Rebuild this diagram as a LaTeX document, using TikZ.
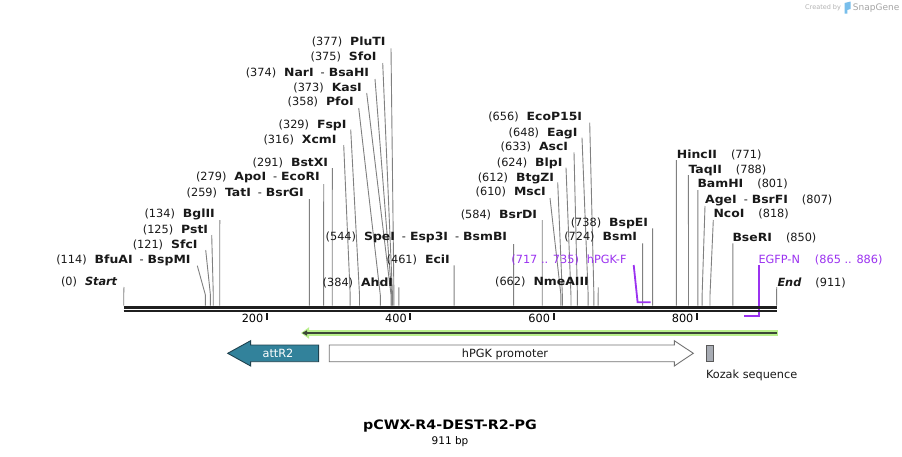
\documentclass[tikz,border=0pt]{standalone}
\usepackage{fontspec}
\setmainfont{DejaVu Sans}[BoldFeatures={FakeStretch=1.1}]
\usetikzlibrary{calc,arrows.meta}
\definecolor{primerc}{RGB}{155,50,240}
\definecolor{attc}{RGB}{50,130,155}
\definecolor{attd}{RGB}{30,65,78}
\definecolor{halo}{RGB}{185,240,140}
\definecolor{featline}{RGB}{60,72,55}
\definecolor{kozc}{RGB}{168,172,180}
\definecolor{sgblue}{RGB}{120,190,235}
\newcommand\mygap{\hspace{8pt}}
\newcommand\rgap{\hspace{14pt}}
\newcommand\mydash{\hspace{7pt}-\hspace{4pt}}
\newcommand\bpx[1]{123.7+#1*0.71675}
\begin{document}
\begin{tikzpicture}[x=1pt,y=-1pt,
  lbl/.style={inner sep=0pt, font=\fontsize{11.3}{13}\selectfont, text=black!90},
  siteline/.style={draw=black!50, line width=0.9pt},
  primerline/.style={draw=primerc, line width=1.8pt},
  ticklbl/.style={inner sep=0pt, font=\fontsize{11.3}{13}\selectfont, anchor=base east},
  tickmark/.style={line width=2pt, draw=black!90},
  backbone/.style={draw=black!88},
  featbox/.style={line width=0.9pt}]
\useasboundingbox[fill=white] (0,0) rectangle (902,456);

% ---- left-side labels: name / right x / center y / text / line start x / y / bp
\foreach \nm/\rx/\ly/\txt/\sx/\sy/\bp in {
  start/117.7/281.7/{(0)\mygap\textbf{\textit{Start}}}/124.0/287/0,
  bfuai/190.7/259/{(114)\mygap\textbf{BfuAI}\mydash\textbf{BspMI}}/197.3/265.7/114,
  sfci/197.7/244/{(121)\mygap\textbf{SfcI}}/205.7/250/121,
  psti/208.3/229/{(125)\mygap\textbf{PstI}}/211.7/235/125,
  bglii/215/213.3/{(134)\mygap\textbf{BglII}}/219.8/220/134,
  tati/304/192.3/{(259)\mygap\textbf{TatI}\mydash\textbf{BsrGI}}/309.3/199/259,
  apoi/320/176.7/{(279)\mygap\textbf{ApoI}\mydash\textbf{EcoRI}}/323.7/184/279,
  bstxi/328.3/162.3/{(291)\mygap\textbf{BstXI}}/332.3/168/291,
  xcmi/336.7/139/{(316)\mygap\textbf{XcmI}}/343.7/145/316,
  fspi/346.7/124.3/{(329)\mygap\textbf{FspI}}/350.7/129.5/329,
  pfoi/354/101.7/{(358)\mygap\textbf{PfoI}}/358.7/108/358,
  kasi/362/87.3/{(373)\mygap\textbf{KasI}}/366.7/93/373,
  nari/369.3/72.3/{(374)\mygap\textbf{NarI}\mydash\textbf{BsaHI}}/375/79/374,
  sfoi/376.7/56.7/{(375)\mygap\textbf{SfoI}}/382.7/63/375,
  pluti/385.7/41.7/{(377)\mygap\textbf{PluTI}}/391/48.3/377,
  ahdi/393.3/282/{(384)\mygap\textbf{AhdI}}/398.9/287.3/384,
  ecii/450/259/{(461)\mygap\textbf{EciI}}/454.1/265.3/461,
  spei/507.3/236.7/{(544)\mygap\textbf{SpeI}\mydash\textbf{Esp3I}\mydash\textbf{BsmBI}}/513.6/244/544,
  bsrdi/537.3/214.3/{(584)\mygap\textbf{BsrDI}}/542.2/220/584,
  msci/546/191.7/{(610)\mygap\textbf{MscI}}/550/198/610,
  btgzi/554.3/177/{(612)\mygap\textbf{BtgZI}}/557.7/182.3/612,
  blpi/562.7/162.3/{(624)\mygap\textbf{BlpI}}/566/167.7/624,
  asci/568.3/146.7/{(633)\mygap\textbf{AscI}}/574/152.3/633,
  eagi/577.7/132.3/{(648)\mygap\textbf{EagI}}/582/137.7/648,
  ecop/582.3/116.7/{(656)\mygap\textbf{EcoP15I}}/589.7/122.7/656,
  nmea/589/281.7/{(662)\mygap\textbf{NmeAIII}}/598.2/287.3/662,
  bsmi/637.3/236.7/{(724)\mygap\textbf{BsmI}}/642.6/243.3/724,
  bspei/648.3/222.3/{(738)\mygap\textbf{BspEI}}/652.6/228.3/738}
{
  \node[lbl, anchor=base east] (L\nm) at (\rx,\ly+4) {\txt};
  \coordinate (A\nm) at (\sx,\sy);
  \coordinate (B\nm) at ({\bpx{\bp}},295);
  \coordinate (S\nm) at ({\bpx{\bp}},305.5);
  \draw[siteline] (A\nm) -- (B\nm) -- (S\nm);
}

% ---- right-side labels: name / left x / center y / text / line start x / y / bp
\foreach \nm/\lx/\ly/\txt/\sx/\sy/\bp in {
  hincii/676.7/154/{\textbf{HincII}\rgap(771)}/676.3/160/771,
  taqii/688.3/169/{\textbf{TaqII}\rgap(788)}/688.4/175/788,
  bamhi/697.3/183.7/{\textbf{BamHI}\rgap(801)}/697.8/190/801,
  agei/705/199/{\textbf{AgeI}\mydash\textbf{BsrFI}\rgap(807)}/705/206/807,
  ncoi/713.3/213.7/{\textbf{NcoI}\rgap(818)}/713.3/220/818,
  bseri/732.3/237.3/{\textbf{BseRI}\rgap(850)}/732.9/243.3/850,
  endd/777.3/282/{\textbf{\textit{End}}\rgap(911)}/776.7/287/911}
{
  \node[lbl, anchor=base west] (L\nm) at (\lx,\ly+4) {\txt};
  \coordinate (A\nm) at (\sx,\sy);
  \coordinate (B\nm) at ({\bpx{\bp}},295);
  \coordinate (S\nm) at ({\bpx{\bp}},305.5);
  \draw[siteline] (A\nm) -- (B\nm) -- (S\nm);
}

% ---- primers
\node[lbl, anchor=base east, text=primerc] (Lhpgkf) at (626.7,263.3) {(717 .. 735)\mygap hPGK-F};
\coordinate (Phf1) at (633.7,265);
\coordinate (Phf2) at ({\bpx{717}},302.3);
\coordinate (Phf3) at ({\bpx{735}},302.3);
\draw[primerline] (Phf1) -- (Phf2) -- (Phf3);

\node[lbl, anchor=base west, text=primerc] (Legfpn) at (758.3,263) {EGFP-N\hspace{15pt}(865 .. 886)};
\coordinate (Pen1) at ({\bpx{886}},265);
\coordinate (Pen2) at ({\bpx{886}},315.7);
\coordinate (Pen3) at ({\bpx{865}},315.7);
\draw[primerline] (Pen1) -- (Pen2) -- (Pen3);

% ---- backbone
\coordinate (bbL) at ({\bpx{0}},307.3);
\coordinate (bbR) at ({\bpx{911}},307.3);
\coordinate (bbL2) at ({\bpx{0}},311);
\coordinate (bbR2) at ({\bpx{911}},311);
\draw[backbone, line width=3pt] (bbL) -- (bbR);
\draw[backbone, line width=2pt] (bbL2) -- (bbR2);

% ---- ticks
\foreach \t in {200,400,600,800}{
  \coordinate (T\t a) at ({\bpx{\t}},313);
  \coordinate (T\t b) at ({\bpx{\t}},320);
  \draw[tickmark] (T\t a) -- (T\t b);
  \node[ticklbl] (TL\t) at ({\bpx{\t}-3.5},322) {\t};
}

% ---- green feature arrow
\coordinate (gR) at (777.8,333);
\coordinate (gL) at (302,333);
\draw[draw=halo, line width=5.5pt, -{Triangle[length=8pt,width=11pt]}] (gR) -- ([xshift=-1pt]gL);
\draw[draw=featline, line width=1.8pt, -{Triangle[length=5pt,width=5pt]}] ([xshift=-1pt]gR) -- (gL);

% ---- attR2
\draw[featbox, fill=attc, draw=attd] (318.6,345) -- (250.6,345) -- (250.6,340.7) -- (227.7,353.3) -- (250.6,366) -- (250.6,361.7) -- (318.6,361.7) -- cycle;
\node[lbl, text=white, anchor=base] (Latt) at (278,357.3) {attR2};

% ---- hPGK promoter
\draw[featbox, fill=white, draw=black!55] (329.2,345) -- (674.3,345) -- (674.3,340.7) -- (693.3,353.3) -- (674.3,366) -- (674.3,361.7) -- (329.2,361.7) -- cycle;
\node[lbl, anchor=base] (Lhpgk) at (505,357.3) {hPGK promoter};

% ---- Kozak
\draw[featbox, fill=kozc, draw=black!65] (706,345) rectangle (713,361.7);
\node[lbl, anchor=base west] (Lkoz) at (705.8,378.5) {Kozak sequence};

% ---- title
\node[inner sep=0pt, anchor=base, font=\fontsize{13}{15}\selectfont\bfseries] (title) at (450,429.5) {pCWX-R4-DEST-R2-PG};
\node[inner sep=0pt, anchor=base, font=\fontsize{10.5}{12}\selectfont] (size) at (450,444) {911 bp};

% ---- SnapGene credit
\node[inner sep=0pt, anchor=base west, text=black!30, font=\fontsize{6.5}{8}\selectfont] (cr1) at (805,9.5) {Created by};
\fill[sgblue] (844.5,3) -- (850.5,1.5) -- (850.5,9) -- (847.3,10) -- (847.3,13.5) -- (844.5,13.5) -- cycle;
\node[inner sep=0pt, anchor=base west, text=black!35, font=\fontsize{9}{10}\selectfont] (cr2) at (852.7,10.5) {SnapGene};
\end{tikzpicture}
\end{document}
